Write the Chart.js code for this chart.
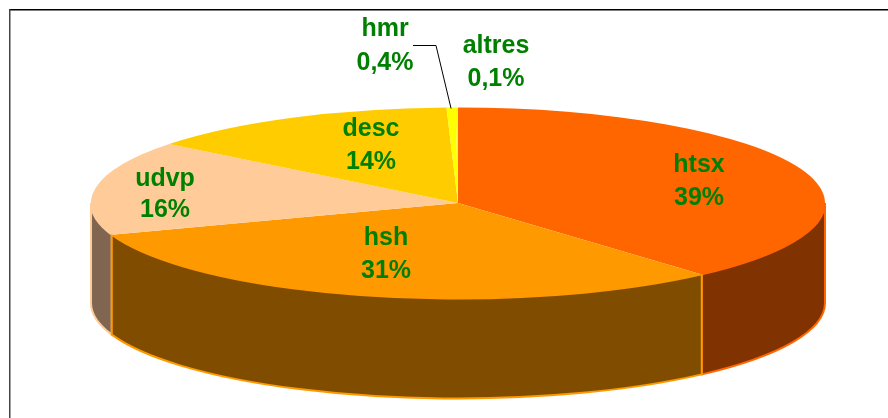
<!DOCTYPE html>
<html><head><meta charset="utf-8">
<style>html,body{margin:0;padding:0;background:#fff;overflow:hidden}canvas{display:block}</style>
<script src="https://cdn.jsdelivr.net/npm/chart.js@4"></script>
</head><body>
<canvas id="c" width="888" height="418"></canvas>
<script>
const categories = ['htsx','hsh','udvp','desc','hmr','altres'];
const values = [38.4,31.15,15.95,13.9,0.4,0.1];
const percentLabels = ['39%','31%','16%','14%','0,4%','0,1%'];
const faceColors = ['#FF6600','#FF9900','#FFCC99','#FFCC00','#FFFF00','#FFFF00'];
const wallColors = ['#803300','#804D00','#806650','#806600','#808000','#808000'];

const labelPos = {
  htsx:[699,165,198], hsh:[386,238,271], udvp:[165,179,210],
  desc:[371,129,162], hmr:[385,29,63], altres:[496,46,79]
};
const RX = 367, RY = 95.5, DEPTH = 100;
const wallOrder = [0,2,1];

const pie3d = {
  id:'pie3d',
  beforeDraw(chart){
    const c = chart.ctx;
    c.save();
    c.fillStyle='#fff'; c.fillRect(0,0,888,418);
    c.fillStyle='#000'; c.fillRect(9,9,879,1.5);
    c.fillStyle='#444'; c.fillRect(9,9,1.5,409);
    c.restore();
  },
  beforeDatasetsDraw(chart){
    const c = chart.ctx, arcs = chart.getDatasetMeta(0).data;
    const a0 = arcs[0], cx=a0.x, cy=a0.y, r=a0.outerRadius;
    c.save();
    for(const i of wallOrder){
      const a = arcs[i];
      const s = Math.max(a.startAngle,0), e = Math.min(a.endAngle,Math.PI);
      if(e<=s) continue;
      c.beginPath();
      c.ellipse(cx,cy,RX,RY,0,s,e);
      c.ellipse(cx,cy+DEPTH,RX,RY,0,e,s,true);
      c.closePath();
      c.fillStyle=wallColors[i]; c.fill();
      c.strokeStyle=faceColors[i]; c.lineWidth=2; c.stroke();
    }
    c.restore();
    c.save();
    c.translate(cx,cy); c.scale(RX/r,RY/r); c.translate(-cx,-cy);
  },
  afterDatasetsDraw(chart){
    const c = chart.ctx, arcs = chart.getDatasetMeta(0).data;
    c.restore();
    const a0 = arcs[0], cx=a0.x, cy=a0.y;
    const h = arcs[categories.indexOf('hmr')];
    const mid = (h.startAngle+h.endAngle)/2;
    c.save();
    c.strokeStyle='#000'; c.lineWidth=1;
    c.beginPath();
    c.moveTo(413,45.5); c.lineTo(436,45.5);
    c.lineTo(cx+RX*Math.cos(mid), cy+RY*Math.sin(mid)+1);
    c.stroke();
    c.fillStyle='#008000';
    c.font='bold 25px "Liberation Sans", Arial, sans-serif';
    c.textAlign='center'; c.textBaseline='middle';
    categories.forEach((n,i)=>{
      const p = labelPos[n];
      c.fillText(n,p[0],p[1]);
      c.fillText(percentLabels[i],p[0],p[2]);
    });
    c.restore();
  }
};

new Chart(document.getElementById('c'),{
  type:'pie',
  data:{labels:categories,datasets:[{data:values,backgroundColor:faceColors,borderWidth:0,clip:false}]},
  options:{
    responsive:false,animation:false,
    layout:{padding:{left:28,right:0,top:0,bottom:12}},
    plugins:{legend:{display:false},tooltip:{enabled:false}}
  },
  plugins:[pie3d]
});
</script>
</body></html>
